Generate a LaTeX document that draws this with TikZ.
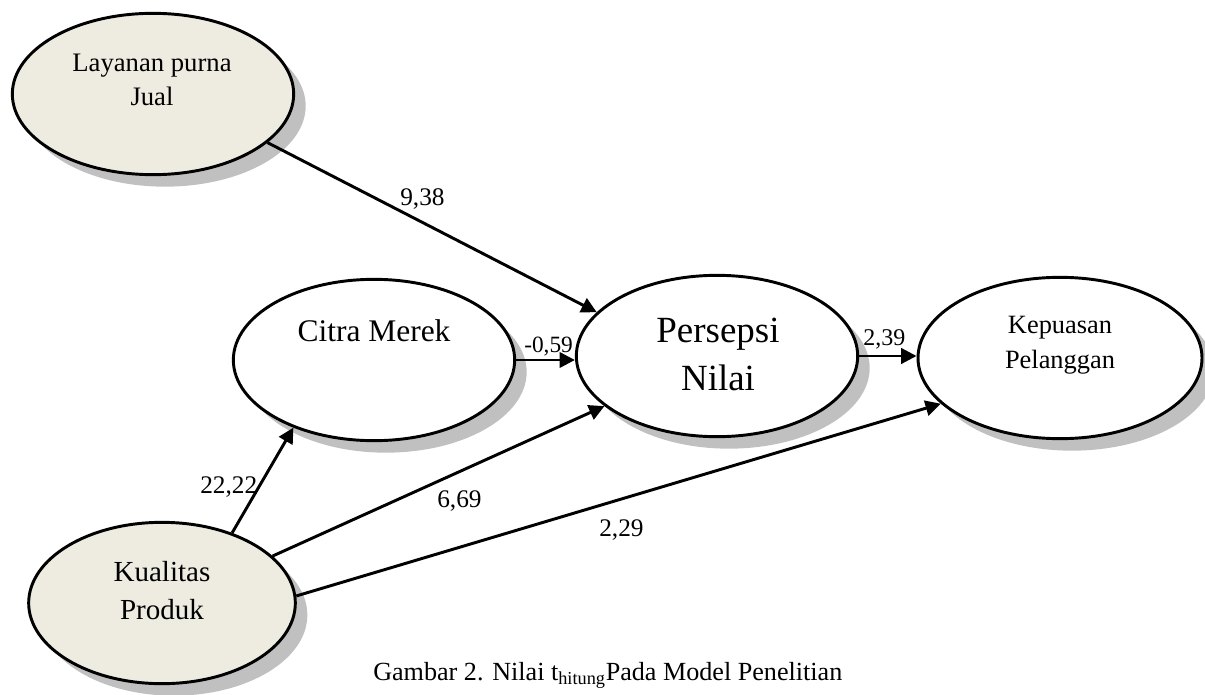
\documentclass[tikz,border=0pt]{standalone}
\usepackage{fontspec}
\setmainfont{Liberation Serif}
\usetikzlibrary{arrows.meta,shapes.geometric,shadows}
\definecolor{beige}{HTML}{EEECE1}
\definecolor{shadowgray}{HTML}{C0C0C0}

\begin{document}
\begin{tikzpicture}[x=0.75pt,y=-0.75pt,
    coef/.style={anchor=base west,inner sep=0pt,font=\fontsize{19}{19}\selectfont}]
  \useasboundingbox (0,0) rectangle (1205,695);
  \begin{scope}[every node/.style={ellipse,draw,line width=2.2pt,fill=white,inner sep=0pt,
      minimum width=211pt,minimum height=121pt,
      drop shadow={shadow xshift=9pt,shadow yshift=-9pt,fill=shadowgray,opacity=1}}]
    \node[fill=beige] (lay) at (153,94)  {};
    \node (cit) at (374,360) {};
    \node (per) at (717,356) {};
    \node[minimum width=213pt] (kep) at (1060,358) {};
    \node[fill=beige,minimum width=200pt] (kua) at (162,603) {};
  \end{scope}
  \begin{scope}[every node/.style={align=center,inner sep=0pt}]
    \node[font=\fontsize{20}{25.5}\selectfont] (lay-t) at (152,80) {Layanan purna\\Jual};
    \node[anchor=base,font=\fontsize{23.6}{28}\selectfont] (cit-t) at (374,341) {Citra Merek};
    \node[font=\fontsize{27.7}{36}\selectfont] (per-t) at (718,354) {Persepsi\\Nilai};
    \node[font=\fontsize{19.8}{26.25}\selectfont] (kep-t) at (1060,345) {Kepuasan\\Pelanggan};
    \node[font=\fontsize{21.8}{28.5}\selectfont] (kua-t) at (162,591) {Kualitas\\Produk};
  \end{scope}
  \begin{scope}[>={Triangle[length=11.5pt,width=11.5pt]},every edge/.style={draw=black,line width=2.2pt}]
    \path[->] (lay.-23) edge (per.160);
    \path[->] (cit.east) edge (cit.east -| per.west);
    \path[->] (per.east) edge (per.east -| kep.west);
    \path[->] (kua.45) edge (cit.-140);
    \path[->] (kua.23) edge (per.204);
    \path[->] (kua.3) edge (kep.201);
  \end{scope}
  \node[coef] (c-lay) at (400,206) {9,38};
  \node[coef,font=\fontsize{17.5}{17.5}\selectfont] (c-cit) at (524,352) {-0,59};
  \node[coef,font=\fontsize{18}{18}\selectfont] (c-per) at (863,345) {2,39};
  \node[coef] (c-kua1) at (200,493) {22,22};
  \node[coef] (c-kua2) at (437,507) {6,69};
  \node[coef] (c-kua3) at (599,536) {2,29};
  \node[coef,font=\fontsize{19.6}{19.6}\selectfont] (caption) at (373,680)
    {Gambar 2. Nilai t\textsubscript{hitung}Pada Model Penelitian};
\end{tikzpicture}
\end{document}
